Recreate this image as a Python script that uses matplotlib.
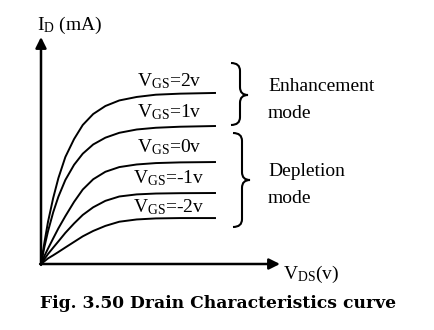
import matplotlib.pyplot as plt
from matplotlib.path import Path
from matplotlib.patches import PathPatch

plt.rcParams['font.family'] = 'Liberation Serif'
plt.rcParams['mathtext.fontset'] = 'custom'
plt.rcParams['mathtext.rm'] = 'Liberation Serif'
plt.rcParams['mathtext.it'] = 'Liberation Serif:italic'

# drain voltage samples (V) and drain current (mA)
vds = [0, 0.2, 0.4, 0.7, 1.0, 1.4, 1.9, 2.4, 3.0, 3.7, 4.5, 5.5, 6.6, 8.0, 10.0]
vgs_labels = ['2v', '1v', '0v', '-1v', '-2v']
id_vgs_p2 = [0, 1.26, 2.41, 3.79, 4.94, 6.15, 7.18, 7.99, 8.62, 9.08, 9.40, 9.60, 9.73, 9.79, 9.83]
id_vgs_p1 = [0, 1.00, 1.87, 2.97, 3.87, 4.83, 5.70, 6.34, 6.87, 7.26, 7.54, 7.73, 7.83, 7.89, 7.93]
id_vgs_0 = [0, 0.47, 0.88, 1.47, 2.05, 2.75, 3.57, 4.28, 4.87, 5.30, 5.57, 5.72, 5.80, 5.84, 5.86]
id_vgs_m1 = [0, 0.29, 0.57, 0.94, 1.30, 1.79, 2.33, 2.82, 3.26, 3.63, 3.88, 4.00, 4.05, 4.07, 4.08]
id_vgs_m2 = [0, 0.16, 0.32, 0.50, 0.69, 0.95, 1.27, 1.59, 1.90, 2.19, 2.43, 2.56, 2.62, 2.64, 2.64]
id_curves = [id_vgs_p2, id_vgs_p1, id_vgs_0, id_vgs_m1, id_vgs_m2]

# layout (pixels of the 434x330 image)
X0, Y0, S = 41, 264, 17.4
W, H = 434, 330


def px(x, y):
    return (x - X0) / S, (Y0 - y) / S


fig = plt.figure(figsize=(W / 100, H / 100), dpi=100)
ax = fig.add_axes([0, 0, 1, 1])
ax.set_xlim(-X0 / S, (W - X0) / S)
ax.set_ylim(-(H - Y0) / S, Y0 / S)
ax.axis('off')

# axes with arrows
arrow = dict(arrowstyle='-|>', color='black', lw=1.8, mutation_scale=16,
             shrinkA=0, shrinkB=0)
ax.annotate('', xy=px(X0, 37), xytext=(0, -0.05), arrowprops=arrow)
ax.annotate('', xy=px(280, Y0), xytext=(-0.05, 0), arrowprops=arrow)

for ids in id_curves:
    ax.plot(vds, ids, color='black', lw=1.4)

# curve labels
label_base = [86, 117, 152, 183, 212]
for lab, yb in zip(vgs_labels, label_base):
    ax.text(*px(169, yb), r'V$_{\mathrm{GS}}$=' + lab, fontsize=14,
            ha='center', va='baseline')

ax.text(*px(37, 30), r'I$_{\mathrm{D}}$ (mA)', fontsize=14, va='baseline')
ax.text(*px(283, 279), r'V$_{\mathrm{DS}}$(v)', fontsize=14, va='baseline')


def brace(xl, xs, xt, yt, ym, yb, r=0.45):
    xl, yt = px(xl, yt)
    xs, ym = px(xs, ym)
    xt, yb = px(xt, yb)
    verts = [(xl, yt), (xs, yt), (xs, yt - r), (xs, ym + r),
             (xs, ym), (xt, ym), (xs, ym), (xs, ym - r),
             (xs, yb + r), (xs, yb), (xl, yb)]
    codes = [Path.MOVETO, Path.CURVE3, Path.CURVE3, Path.LINETO,
             Path.CURVE3, Path.CURVE3, Path.CURVE3, Path.CURVE3,
             Path.LINETO, Path.CURVE3, Path.CURVE3]
    ax.add_patch(PathPatch(Path(verts, codes), fill=False, lw=1.5,
                           edgecolor='black'))


brace(231, 240, 248, 63, 95, 125)
brace(233, 242, 250, 133, 180, 227)

ax.text(*px(268, 91), 'Enhancement', fontsize=14, va='baseline')
ax.text(*px(268, 118), 'mode', fontsize=14, va='baseline')
ax.text(*px(268, 176), 'Depletion', fontsize=14, va='baseline')
ax.text(*px(268, 203), 'mode', fontsize=14, va='baseline')

fig.text(218 / W, (H - 308) / H, 'Fig. 3.50 Drain Characteristics curve',
         family='DejaVu Serif', weight='bold', fontsize=12.3, ha='center',
         va='baseline')

fig.savefig('out.png', dpi=100)
